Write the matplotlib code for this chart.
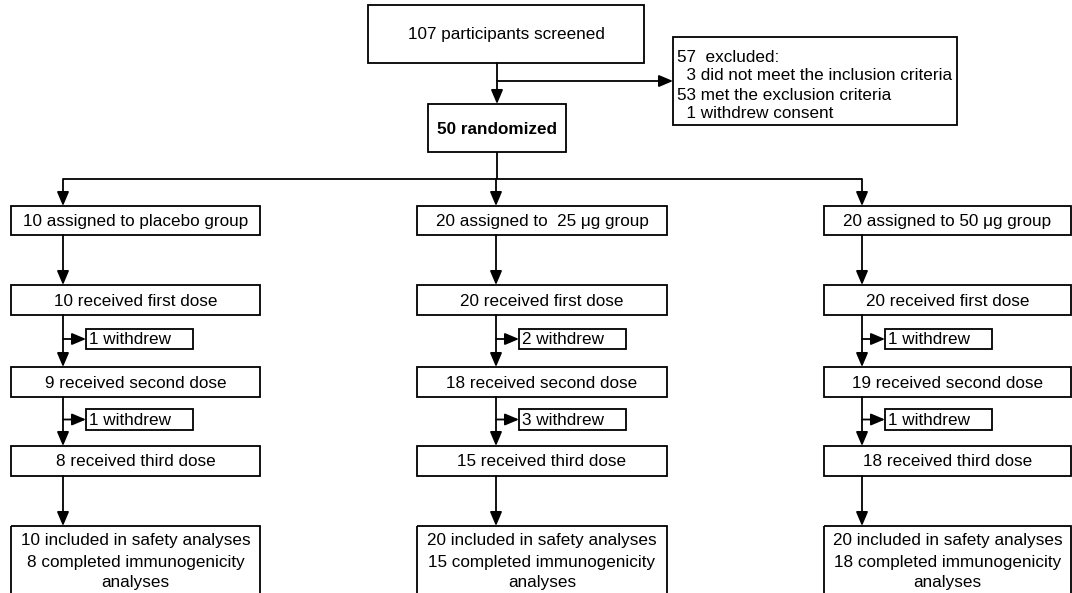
import matplotlib.pyplot as plt
from matplotlib.patches import Rectangle

plt.rcParams['font.family'] = ['Liberation Sans', 'DejaVu Sans']

# flow numbers
screened = 107
excluded_lines = ["57  excluded:",
                  "  3 did not meet the inclusion criteria",
                  "53 met the exclusion criteria",
                  "  1 withdrew consent"]
randomized = 50
assigned_labels = ["10 assigned to placebo group",
                   "20 assigned to  25 \u03bcg group",
                   "20 assigned to 50 \u03bcg group"]
first_dose = [10, 20, 20]
withdrew_1 = [1, 2, 1]
second_dose = [9, 18, 19]
withdrew_2 = [1, 3, 1]
third_dose = [8, 15, 18]
safety = [10, 20, 20]
immuno = [8, 15, 18]

FS = 12.3
LW = 1.3

fig = plt.figure(figsize=(10.72, 5.93), dpi=100)
ax = fig.add_axes([0, 0, 1, 1])
ax.set_xlim(0, 1072)
ax.set_ylim(593, 0)
ax.axis('off')


def box(x0, y0, x1, y1, lw=LW):
    ax.add_patch(Rectangle((x0, y0), x1 - x0, y1 - y0, fill=False,
                           edgecolor='black', lw=lw, clip_on=False))


def line(xs, ys):
    ax.plot(xs, ys, color='black', lw=LW, solid_capstyle='butt')


def arrow(x0, y0, x1, y1):
    ax.annotate("", xy=(x1, y1), xytext=(x0, y0),
                arrowprops=dict(arrowstyle="-|>,head_length=0.85,head_width=0.36",
                                color='black', lw=LW, shrinkA=0, shrinkB=0,
                                mutation_scale=10))


# top part
box(368, 5, 644, 63)
ax.text(506, 35, f"{screened} participants screened", ha='center', va='center', fontsize=FS)
arrow(497, 63, 497, 104)
arrow(497, 81, 673, 81)
box(673, 37, 957, 125)
for i, s in enumerate(excluded_lines):
    ax.text(677, 57 + i * 19, s, ha='left', va='center', fontsize=FS)
box(428, 104, 566, 152)
ax.text(497, 129, f"{randomized} randomized", ha='center', va='center',
        fontsize=FS, fontweight='bold')

# split to three groups
col_x = [63, 496, 862]
box_l = [11, 417, 824]
box_r = [260, 667, 1071]
line([497, 497], [152, 179])
line([col_x[0], col_x[2]], [179, 179])
for cx in col_x:
    arrow(cx, 179, cx, 206)

rows = [(206, 235), (285, 315), (367, 397), (446, 476), (526, 640)]
wd_rows = [(329, 349), (409, 430)]

for k in range(3):
    cx, l, r = col_x[k], box_l[k], box_r[k]
    mid = (l + r) / 2
    labels = [assigned_labels[k],
              f"{first_dose[k]} received first dose",
              f"{second_dose[k]} received second dose",
              f"{third_dose[k]} received third dose"]
    for (y0, y1), lab in zip(rows[:4], labels):
        box(l, y0, r, y1)
        ax.text(mid, (y0 + y1) / 2 + 1, lab, ha='center', va='center', fontsize=FS)
    # vertical arrows between rows
    for (a, b) in zip(rows[:-1], rows[1:]):
        arrow(cx, a[1], cx, b[0])
    # withdrawals
    for (y0, y1), n in zip(wd_rows, [withdrew_1[k], withdrew_2[k]]):
        wx = cx + 23
        box(wx, y0, wx + 107, y1)
        arrow(cx, (y0 + y1) / 2, wx, (y0 + y1) / 2)
        ax.text(wx + 3, (y0 + y1) / 2 + 1, f"{n} withdrew", ha='left', va='center', fontsize=FS)
    # final box
    y0, y1 = rows[4]
    box(l, y0, r, y1)
    final_lines = [f"{safety[k]} included in safety analyses",
                   f"{immuno[k]} completed immunogenicity",
                   "analyses"]
    for i, s in enumerate(final_lines):
        ax.text(mid, 541 + i * 21, s, ha='center', va='center', fontsize=FS)

fig.savefig("out.png", dpi=100)
